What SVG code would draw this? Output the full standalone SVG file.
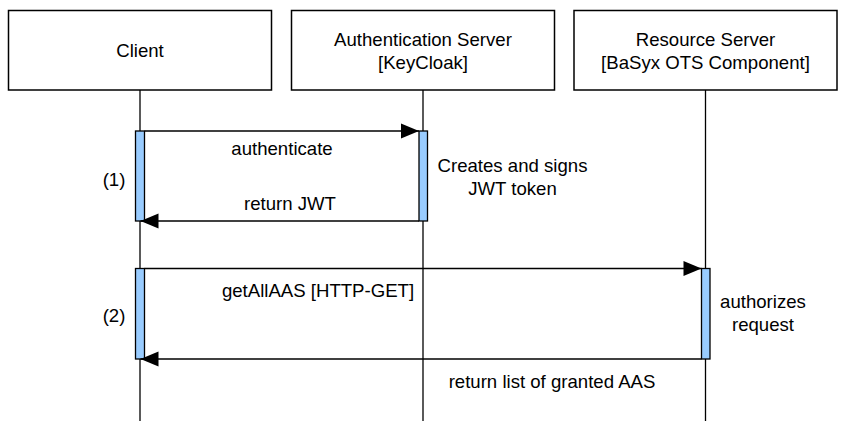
<svg xmlns="http://www.w3.org/2000/svg" width="850" height="421" viewBox="0 0 850 421">
<style>
.box{fill:#fff;stroke:#000;stroke-width:1.5}
.life{stroke:#000;stroke-width:1.3;fill:none}
.act{fill:#99CCFF;stroke:#000;stroke-width:1.3}
.msg{stroke:#000;stroke-width:1.3;fill:none}
text{font-family:"Liberation Sans",Arial,sans-serif;font-size:18.6px;fill:#000;text-anchor:middle}
</style>
<defs>
<marker id="ah" markerUnits="userSpaceOnUse" markerWidth="20" markerHeight="18" refX="19" refY="8" orient="auto">
<path d="M1,0.5 L19,8 L1,15.5 Z" fill="#000"/>
</marker>
</defs>
<rect width="850" height="421" fill="#fff"/>
<g id="lifelines">
<line class="life" x1="140" y1="90" x2="140" y2="421"/>
<line class="life" x1="423" y1="90" x2="423" y2="421"/>
<line class="life" x1="705.5" y1="90" x2="705.5" y2="421"/>
</g>
<g id="client">
<rect class="box" x="8.5" y="10.5" width="263" height="79.5"/>
<text x="140" y="57">Client</text>
</g>
<g id="auth-server">
<rect class="box" x="291.5" y="10.5" width="263" height="79.5"/>
<text x="423" y="46">Authentication Server</text>
<text x="423" y="69">[KeyCloak]</text>
</g>
<g id="resource-server">
<rect class="box" x="574" y="10.5" width="263" height="79.5"/>
<text x="705.5" y="46">Resource Server</text>
<text x="705.5" y="69">[BaSyx OTS Component]</text>
</g>
<g id="activation-client-1">
<rect class="act" x="135.5" y="131" width="9" height="90"/>
</g>
<g id="activation-auth">
<rect class="act" x="419" y="131" width="8.5" height="90"/>
</g>
<g id="activation-client-2">
<rect class="act" x="135.5" y="268.5" width="9" height="90.5"/>
</g>
<g id="activation-resource">
<rect class="act" x="701.5" y="268.5" width="8.5" height="90.5"/>
</g>
<g id="connectors">
<line class="msg" x1="144.5" y1="131" x2="419" y2="131" marker-end="url(#ah)"/>
<line class="msg" x1="419" y1="221" x2="140.5" y2="221" marker-end="url(#ah)"/>
<line class="msg" x1="144.5" y1="268.5" x2="701.5" y2="268.5" marker-end="url(#ah)"/>
<line class="msg" x1="701.5" y1="359" x2="140.5" y2="359" marker-end="url(#ah)"/>
</g>
<g id="labels">
<text x="282" y="155">authenticate</text>
<text x="290" y="210">return JWT</text>
<text x="114" y="186">(1)</text>
<text x="512.5" y="172">Creates and signs</text>
<text x="512.5" y="194.5">JWT token</text>
<text x="318" y="297">getAllAAS [HTTP-GET]</text>
<text x="114" y="322">(2)</text>
<text x="763" y="308">authorizes</text>
<text x="763" y="331">request</text>
<text x="552" y="388">return list of granted AAS</text>
</g>
</svg>
